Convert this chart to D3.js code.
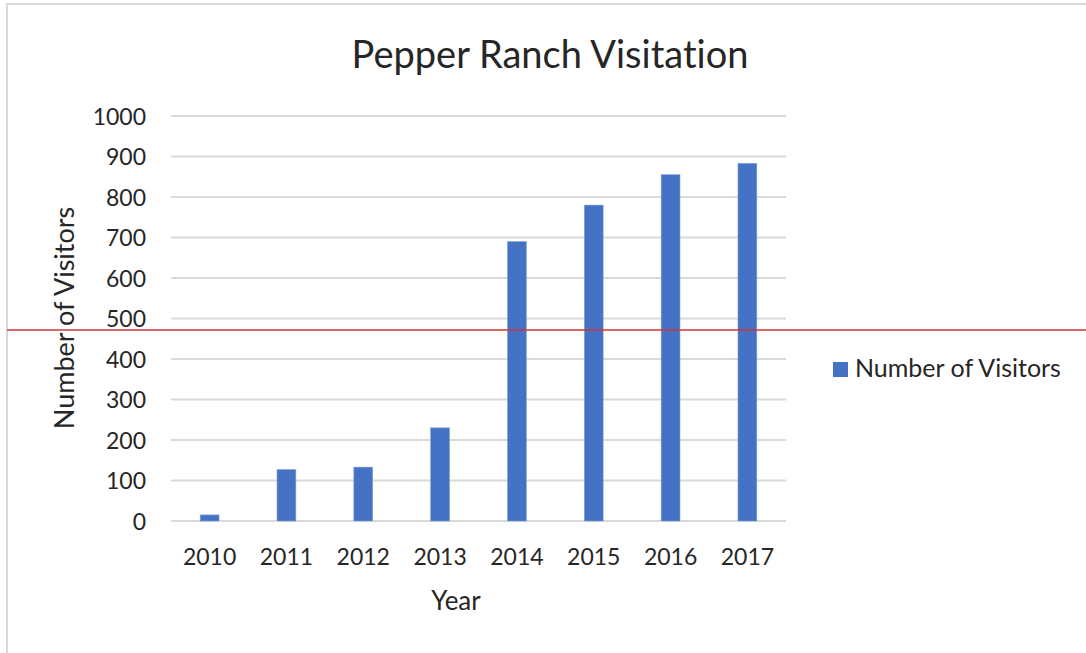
<!DOCTYPE html>
<html>
<head>
<meta charset="utf-8">
<script src="https://cdn.jsdelivr.net/npm/d3@7"></script>
<style>
  body { margin: 0; background: #fff; }
  text { font-family: Lato, "Open Sans", sans-serif; fill: #262626; font-variant-ligatures: none; }
</style>
</head>
<body>
<svg id="chart" width="1086" height="653"></svg>
<script>
// data
const years = ["2010", "2011", "2012", "2013", "2014", "2015", "2016", "2017"];
const visitors = [15, 127, 133, 230, 690, 780, 855, 883];
const yTicks = [0, 100, 200, 300, 400, 500, 600, 700, 800, 900, 1000];
const seriesName = "Number of Visitors";

const svg = d3.select("#chart");
const width = +svg.attr("width");
const height = +svg.attr("height");

const margin = { top: 116, right: 300, bottom: 132, left: 171 };
const chartWidth = width - margin.left - margin.right;
const chartHeight = height - margin.top - margin.bottom;

// outer frame (only top and left edges are visible)
svg.append("path")
  .attr("d", `M7,${height} L7,4 L${width},4`)
  .attr("fill", "none")
  .attr("stroke", "#d9d9d9")
  .attr("stroke-width", 2);

const g = svg.append("g")
  .attr("transform", `translate(${margin.left},${margin.top})`);

const x = d3.scaleBand()
  .domain(years)
  .range([0, chartWidth])
  .paddingInner(0.755)
  .paddingOuter(0.38);

const y = d3.scaleLinear()
  .domain([0, 1000])
  .range([chartHeight, 0]);

// gridlines
g.append("g")
  .selectAll("line")
  .data(yTicks)
  .enter()
  .append("line")
  .attr("x1", 0)
  .attr("x2", chartWidth)
  .attr("y1", (d) => y(d))
  .attr("y2", (d) => y(d))
  .attr("stroke", "#d9d9d9")
  .attr("stroke-width", 2);

// y axis labels
const yAxis = g.append("g")
  .call(d3.axisLeft(y).tickValues(yTicks).tickFormat(d3.format("d")).tickSize(0).tickPadding(25));
yAxis.select(".domain").remove();
yAxis.selectAll("text")
  .style("font-size", "23px")
  .attr("fill", "#262626")
  .attr("dy", "0.35em");

// bars
g.selectAll(".bar")
  .data(years.map((d, i) => ({ year: d, value: visitors[i] })))
  .enter()
  .append("rect")
  .attr("class", "bar")
  .attr("x", (d) => x(d.year))
  .attr("y", (d) => y(d.value))
  .attr("width", x.bandwidth())
  .attr("height", (d) => chartHeight - y(d.value))
  .attr("fill", "#4472c4")
  .attr("stroke", "#7f9fd8")
  .attr("stroke-width", 0.6);

// x axis labels
const xAxis = g.append("g")
  .attr("transform", `translate(0,${chartHeight})`)
  .call(d3.axisBottom(x).tickSize(0).tickPadding(28));
xAxis.select(".domain").remove();
xAxis.selectAll("text")
  .style("font-size", "23px")
  .attr("fill", "#262626");

// title
svg.append("text")
  .attr("x", 550)
  .attr("y", 68)
  .attr("text-anchor", "middle")
  .style("font-size", "38px")
  .attr("fill", "#111")
  .text("Pepper Ranch Visitation");

// axis titles
svg.append("text")
  .attr("x", 456)
  .attr("y", 610)
  .attr("text-anchor", "middle")
  .style("font-size", "26px")
  .text("Year");

svg.append("text")
  .attr("transform", "translate(74,318) rotate(-90)")
  .attr("text-anchor", "middle")
  .style("font-size", "27px")
  .attr("fill", "#111")
  .text(seriesName);

// legend
const legend = svg.append("g").attr("transform", "translate(833,362)");
legend.append("rect")
  .attr("width", 15)
  .attr("height", 15)
  .attr("fill", "#4472c4");
legend.append("text")
  .attr("x", 22)
  .attr("y", 15)
  .style("font-size", "25px")
  .attr("fill", "#111")
  .text(seriesName);

// red reference line
svg.append("line")
  .attr("x1", 7)
  .attr("x2", width)
  .attr("y1", 330)
  .attr("y2", 330)
  .attr("stroke", "#d13438")
  .attr("stroke-width", 1.5);
</script>
</body>
</html>
